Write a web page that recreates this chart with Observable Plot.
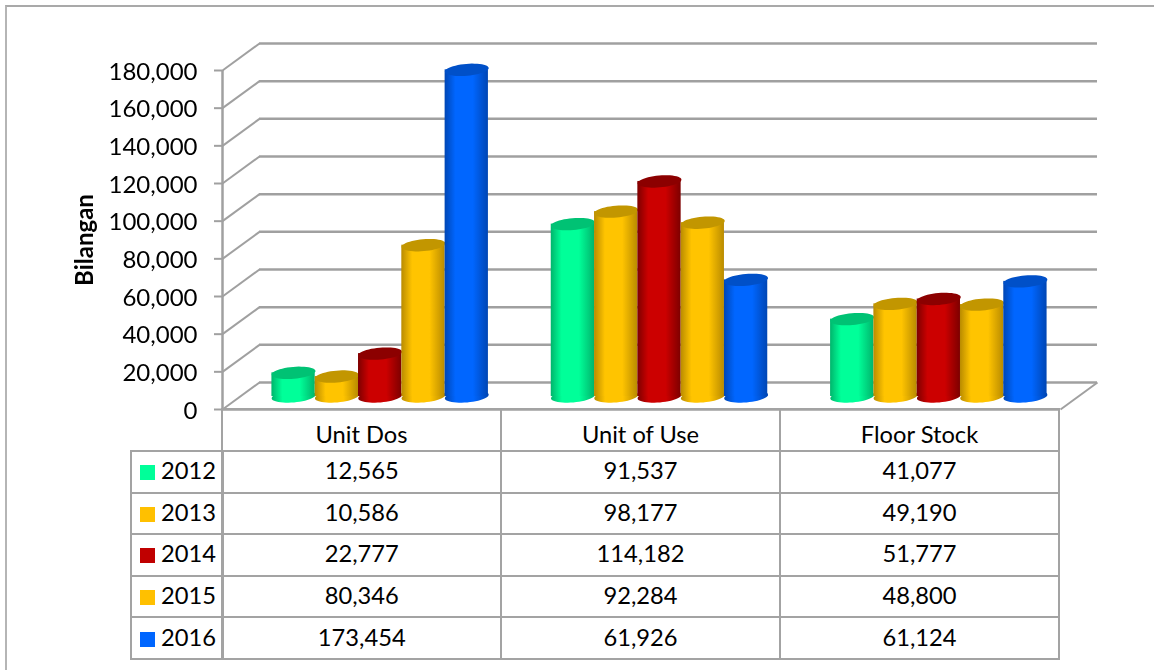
<!DOCTYPE html>
<html>
<head>
<meta charset="utf-8">
<script src="https://cdn.jsdelivr.net/npm/d3@7"></script>
<script src="https://cdn.jsdelivr.net/npm/@observablehq/plot@0.6"></script>
<style>
  html, body { margin: 0; padding: 0; background: #fff; width: 1154px; height: 670px; overflow: hidden; }
  #frame { position: absolute; left: 5px; top: 5px; width: 1200px; height: 700px; border-top: 2px solid #a9a9a9; border-left: 2px solid #b5b5b5; }
  #chart { position: absolute; left: 0; top: 0; }
  #chart svg { filter: blur(0.45px); }
  table { position: absolute; left: 130px; top: 408px; border-collapse: collapse; table-layout: fixed; width: 928px;
          font-family: Lato, sans-serif; font-size: 23.7px; color: #000; }
  td { border: 2px solid #a3a3a3; text-align: center; padding: 0 0 3px 0; height: 40px; box-sizing: border-box; }
  tr.head td { height: 42px; padding-top: 8px; padding-bottom: 0; }
  td.blank { border: none; border-bottom: 2px solid #a3a3a3; }
  td.key { text-align: left; white-space: nowrap; padding-left: 8px; border-right-width: 3px; }
  td.key i { display: inline-block; width: 15px; height: 15px; margin-right: 6px; vertical-align: -1px; }
</style>
</head>
<body>
<div id="frame"></div>
<div id="chart"></div>
<script>
const categories = ["Unit Dos", "Unit of Use", "Floor Stock"];
const years = ["2012", "2013", "2014", "2015", "2016"];
const values2012 = [12565, 91537, 41077];
const values2013 = [10586, 98177, 49190];
const values2014 = [22777, 114182, 51777];
const values2015 = [80346, 92284, 48800];
const values2016 = [173454, 61926, 61124];
const yTicks = [0, 20000, 40000, 60000, 80000, 100000, 120000, 140000, 160000, 180000];
const seriesValues = [values2012, values2013, values2014, values2015, values2016];
const colors = ["#00ff99", "#ffc000", "#c00000", "#ffc000", "#0066ff"];
const sides = ["#00ff99", "#ffc400", "#cc0000", "#ffc400", "#0066ff"];
const edges = ["#00b56c", "#b98b00", "#7d0000", "#b98b00", "#0046b4"];
const caps = ["#00c274", "#c29600", "#8c0000", "#c29600", "#0050c8"];

const H = 432, Y0 = 409, Y1 = 70, XL = 222, XR = 1060;
const pxX = (XR - XL) / 3, pxY = (Y0 - Y1) / 180000;
const depthX = 37 / pxX, depthY = 27 / pxY;
const barW = 43.3 / pxX;

const capSymbol = {
  draw(ctx, size) {
    const rx = Math.sqrt(size / Math.PI), ry = rx * 0.27, t = -5 * Math.PI / 180;
    for (let i = 0; i < 48; ++i) {
      const a = i / 48 * 2 * Math.PI, x = rx * Math.cos(a), y = ry * Math.sin(a);
      const px = x * Math.cos(t) - y * Math.sin(t), py = x * Math.sin(t) + y * Math.cos(t);
      i ? ctx.lineTo(px, py) : ctx.moveTo(px, py);
    }
    ctx.closePath();
  }
};

function gradients() {
  const ns = "http://www.w3.org/2000/svg";
  const defs = document.createElementNS(ns, "defs");
  years.forEach((y, i) => {
    const g = document.createElementNS(ns, "linearGradient");
    g.setAttribute("id", "side" + y);
    [[0, edges[i]], [0.25, sides[i]], [0.65, sides[i]], [1, edges[i]]].forEach(([o, c]) => {
      const s = document.createElementNS(ns, "stop");
      s.setAttribute("offset", o);
      s.setAttribute("stop-color", c);
      g.appendChild(s);
    });
    defs.appendChild(g);
  });
  return defs;
}

const dx = 18, dy = -13;
const barMarks = years.flatMap((y, yi) => {
  const rows = categories.map((c, ci) => ({
    center: ci + 0.5 + (yi - 2) * barW,
    value: seriesValues[yi][ci]
  }));
  const fill = `url(#side${y})`;
  return [
    Plot.dot(rows, {x: "center", y: () => 0, r: 22, symbol: capSymbol, fill, dx, dy}),
    Plot.rect(rows, {x1: d => d.center - barW / 2, x2: d => d.center + barW / 2, y1: () => 0, y2: "value", fill, dx, dy}),
    Plot.dot(rows, {x: "center", y: "value", r: 22, symbol: capSymbol, fill: caps[yi], dx, dy})
  ];
});

const gridStroke = "#a0a0a0";
const plot = Plot.plot({
  width: 1154, height: H,
  marginLeft: XL, marginRight: 1154 - XR, marginTop: Y1, marginBottom: H - Y0,
  style: {background: "transparent", fontFamily: "Lato, sans-serif", overflow: "visible"},
  x: {domain: [0, 3], axis: null},
  y: {domain: [0, 180000], axis: null},
  marks: [
    gradients,
    Plot.ruleY(yTicks, {y: d => d + depthY, x1: depthX, x2: 3 + depthX, stroke: gridStroke, strokeWidth: 2.5}),
    Plot.link(yTicks, {x1: 0, y1: d => d, x2: depthX, y2: d => d + depthY, stroke: gridStroke, strokeWidth: 2}),
    Plot.link([0], {x1: 3, y1: 0, x2: 3 + depthX, y2: depthY, stroke: gridStroke, strokeWidth: 2}),
    Plot.ruleY([0], {x1: 0, x2: 3, stroke: gridStroke, strokeWidth: 2.5}),
    Plot.ruleX([0], {y1: 0, y2: 180000, stroke: gridStroke, strokeWidth: 2.5}),
    ...barMarks,
    Plot.axisY(yTicks, {
      anchor: "left", tickSize: 8, text: null,
      stroke: gridStroke, strokeWidth: 2, strokeOpacity: 1, label: null
    }),
    Plot.text(yTicks, {
      x: () => 0, y: d => d, text: d3.format(","), textAnchor: "end", dx: -25, dy: 1.5,
      fontSize: 24, fill: "#000"
    }),
    Plot.text(["Bilangan"], {
      text: d => d, x: () => 0, y: () => 90000, dx: -137, dy: 0,
      rotate: -90, fontSize: 24, fontWeight: "bold", fill: "#000"
    })
  ]
});
document.getElementById("chart").appendChild(plot);

const table = document.createElement("table");
const cg = document.createElement("colgroup");
[91, 279, 279, 279].forEach(w => {
  const c = document.createElement("col");
  c.style.width = w + "px";
  cg.appendChild(c);
});
table.appendChild(cg);
const head = table.insertRow();
head.className = "head";
head.insertCell().className = "blank";
categories.forEach(c => { head.insertCell().textContent = c; });
years.forEach((y, i) => {
  const r = table.insertRow();
  const k = r.insertCell();
  k.className = "key";
  const sw = document.createElement("i");
  sw.style.background = colors[i];
  k.appendChild(sw);
  k.appendChild(document.createTextNode(y));
  seriesValues[i].forEach(v => { r.insertCell().textContent = d3.format(",")(v); });
  r.style.height = "41.6px";
});
document.body.appendChild(table);
</script>
</body>
</html>
